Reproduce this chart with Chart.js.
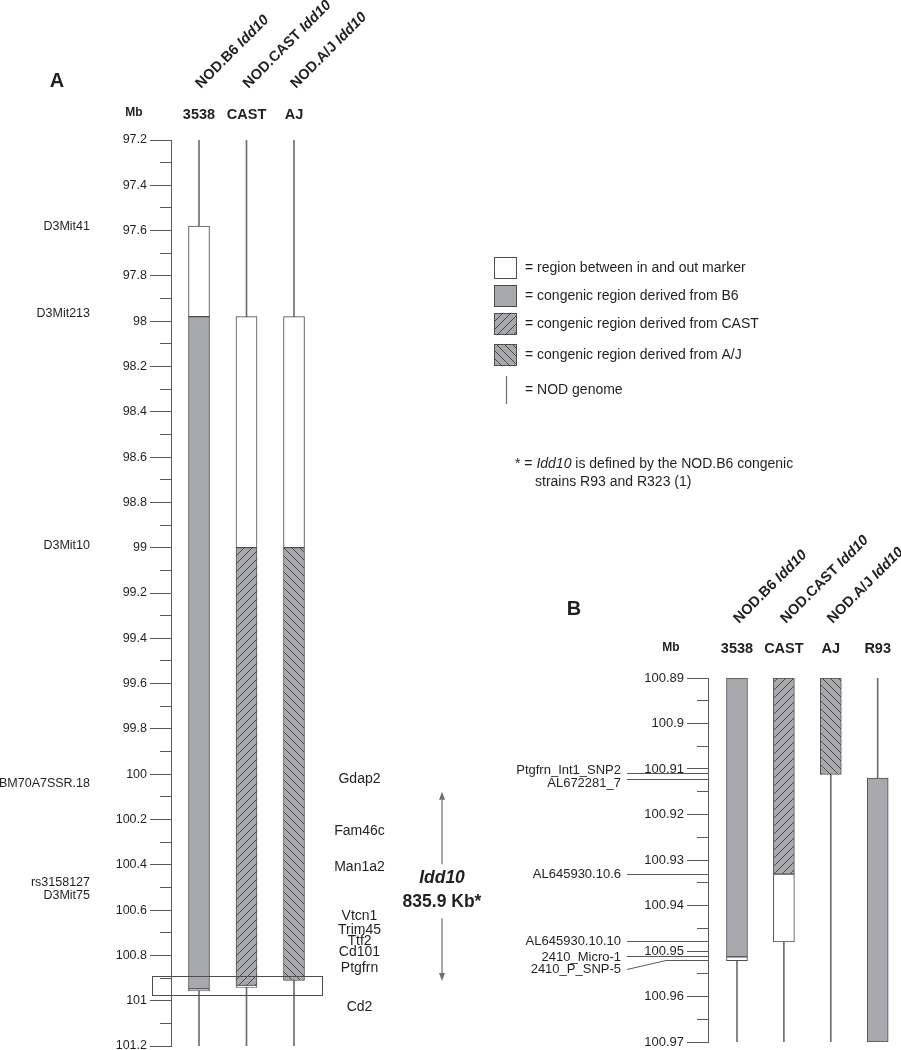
<!DOCTYPE html>
<html><head><meta charset="utf-8">
<script src="https://cdn.jsdelivr.net/npm/chart.js@4.4.1/dist/chart.umd.min.js"></script>
<style>
html,body{margin:0;padding:0;background:#fff;}
#wrap{position:relative;width:901px;height:1050px;overflow:hidden;background:#fff;}
#wrap canvas{position:absolute;left:0;top:0;}
</style></head><body>
<div id="wrap"><canvas id="chartA" width="901" height="1060"></canvas><canvas id="chartB" width="901" height="1060"></canvas></div>
<script>
// ---------------- DATA ----------------
// Panel A
const columnsA = ['3538', 'CAST', 'AJ'];
const strainsA = ['NOD.B6', 'NOD.CAST', 'NOD.A/J'];
const donorA = ['B6', 'CAST', 'AJ'];
const yRangeA = [97.2, 101.2];
const flankTopA = [[97.58, 97.98], [97.98, 99.0], [97.98, 99.0]];
const congenicA = [[97.98, 100.948], [99.0, 100.933], [99.0, 100.911]];
const flankBottomA = [[100.948, 100.957], [100.933, 100.941], null];
const markersA = ['D3Mit41', 'D3Mit213', 'D3Mit10', 'BM70A7SSR.18', 'rs3158127', 'D3Mit75'];
const markerMbA = [97.583, 97.968, 98.99, 100.04, 100.48, 100.535];
const genesA = ['Gdap2', 'Fam46c', 'Man1a2', 'Vtcn1', 'Trim45', 'Ttf2', 'Cd101', 'Ptgfrn', 'Cd2'];
const geneMbA = [100.02, 100.253, 100.412, 100.625, 100.69, 100.738, 100.785, 100.858, 101.03];
const idd10Mb = [100.077, 100.913];
const idd10Text = ['Idd10', '835.9 Kb*'];
const zoomWindowA = [100.891, 100.978];

// Panel B
const columnsB = ['3538', 'CAST', 'AJ', 'R93'];
const strainsB = ['NOD.B6', 'NOD.CAST', 'NOD.A/J', ''];
const donorB = ['B6', 'CAST', 'AJ', 'B6'];
const yRangeB = [100.89, 100.97];
const flankTopB = [null, null, null, null];
const congenicB = [[100.89, 100.9513], [100.89, 100.9331], [100.89, 100.9112], [100.912, 100.97]];
const flankBottomB = [[100.9513, 100.9521], [100.9331, 100.948], null, null];
const markersB = ['Ptgfrn_Int1_SNP2', 'AL672281_7', 'AL645930.10.6', 'AL645930.10.10', '2410_Micro-1', '2410_P_SNP-5'];
const markerMbB = [100.9109, 100.9123, 100.9331, 100.948, 100.9513, 100.9521];

// Legend
const legendKinds = ['white', 'B6', 'CAST', 'AJ', 'line'];
const legendLabels = ['= region between in and out marker', '= congenic region derived from B6',
  '= congenic region derived from CAST', '= congenic region derived from A/J', '= NOD genome'];

// ---------------- STYLE ----------------
const FONT = '"Liberation Sans", Arial, Helvetica, sans-serif';
const INK = '#231f20';
const AXIS = '#58595b';
const GRAY = '#a7a9ac';
const EDGE = '#4d4d4f';
const NODLINE = '#6d6e71';

function makeHatch(dir) {
  const c = document.createElement('canvas');
  c.width = 8; c.height = 8;
  const g = c.getContext('2d');
  g.fillStyle = GRAY; g.fillRect(0, 0, 8, 8);
  g.strokeStyle = '#3f3f41'; g.lineWidth = 0.9;
  g.beginPath();
  if (dir === '/') {
    g.moveTo(-1, 9); g.lineTo(9, -1);
    g.moveTo(-1, 1); g.lineTo(1, -1);
    g.moveTo(7, 9); g.lineTo(9, 7);
  } else {
    g.moveTo(-1, -1); g.lineTo(9, 9);
    g.moveTo(7, -1); g.lineTo(9, 1);
    g.moveTo(-1, 7); g.lineTo(1, 9);
  }
  g.stroke();
  return g.createPattern(c, 'repeat');
}
const FILL = { white: '#ffffff', B6: GRAY, CAST: makeHatch('/'), AJ: makeHatch('\\') };

function f(size, style) { return (style ? style + ' ' : '') + size + 'px ' + FONT; }
function text(ctx, s, x, y, font, align, base) {
  ctx.font = font; ctx.fillStyle = INK;
  ctx.textAlign = align || 'left'; ctx.textBaseline = base || 'middle';
  ctx.fillText(s, x, y);
}
function runs(ctx, parts, x, y, base) {
  ctx.textAlign = 'left'; ctx.textBaseline = base || 'middle'; ctx.fillStyle = INK;
  let cx = x;
  parts.forEach(([t, fn]) => { ctx.font = fn; ctx.fillText(t, cx, y); cx += ctx.measureText(t).width; });
}
function line(ctx, x1, y1, x2, y2, color, w) {
  ctx.strokeStyle = color || AXIS; ctx.lineWidth = w || 1;
  ctx.beginPath(); ctx.moveTo(x1, y1); ctx.lineTo(x2, y2); ctx.stroke();
}
const crisp = v => Math.round(v - 0.5) + 0.5;

function buildDatasets(cols, donor, range, flankTop, congenic, flankBottom) {
  const pts = arr => arr.map((v, i) => v ? { x: i, y: v } : null).filter(Boolean);
  const common = { borderColor: EDGE, borderWidth: 1, borderSkipped: false, barThickness: 21, maxBarThickness: 21 };
  return [
    Object.assign({ label: 'flank bottom', data: pts(flankBottom), backgroundColor: FILL.white, order: 0 }, common),
    Object.assign({ label: 'congenic', data: pts(congenic),
      backgroundColor: c => c.raw ? FILL[donor[c.raw.x]] : GRAY, order: 1 }, common),
    Object.assign({ label: 'flank top', data: pts(flankTop), backgroundColor: FILL.white, order: 1 }, common),
    { label: 'NOD genome', data: cols.map((_, i) => ({ x: i, y: range })), backgroundColor: NODLINE,
      borderWidth: 0, barThickness: 1, maxBarThickness: 1.1, order: 5 }
  ];
}

function axisOptions(cols, range, xMin, xMax, top, left, step, prec, isMajor, fmt, tickFont, headPad) {
  return {
    x: {
      type: 'linear', position: 'top', min: xMin, max: xMax, offset: false,
      afterBuildTicks: s => { s.ticks = cols.map((_, i) => ({ value: i })); },
      afterFit: s => { s.height = top; s.paddingLeft = 0; s.paddingRight = 0; },
      grid: { display: false }, border: { display: false },
      ticks: { callback: v => cols[v], color: INK, padding: headPad, maxRotation: 0, autoSkip: false,
        font: { family: FONT, size: 14.5, weight: 'bold' } }
    },
    y: {
      type: 'linear', position: 'left', reverse: true, min: range[0], max: range[1],
      afterFit: s => { s.width = left; s.paddingTop = 0; s.paddingBottom = 0; },
      ticks: { stepSize: step, precision: prec, autoSkip: false, padding: 3, color: INK,
        callback: v => isMajor(v) ? fmt(v) : '', font: { family: FONT, size: tickFont } },
      grid: { drawOnChartArea: false, drawTicks: true, tickLength: 21, tickWidth: 1,
        tickColor: c => (c.tick && isMajor(c.tick.value)) ? AXIS : 'rgba(0,0,0,0)' },
      border: { display: true, color: AXIS, width: 1 }
    }
  };
}

function minorTickPlugin(isMajor) {
  return {
    id: 'minorTicks',
    afterDraw(chart) {
      const y = chart.scales.y, ctx = chart.ctx, L = chart.chartArea.left;
      ctx.save();
      y.ticks.forEach(t => {
        if (!isMajor(t.value)) { const py = crisp(y.getPixelForValue(t.value)); line(ctx, L - 11, py, L, py); }
      });
      ctx.restore();
    }
  };
}

function drawStrains(ctx, xs, strains, baseY) {
  strains.forEach((s, i) => {
    if (!s) return;
    const px = xs.getPixelForValue(i) + 2;
    ctx.save(); ctx.translate(px, baseY); ctx.rotate(-Math.PI / 4);
    runs(ctx, [[s + ' ', f(14.5, 'bold')], ['Idd10', f(14.5, 'italic bold')]], 0, 0, 'alphabetic');
    ctx.restore();
  });
}

// ---------------- CHART A ----------------
const isMajorA = v => Math.round(v * 10) % 2 === 0;
const fmtA = v => String(Math.round(v * 10) / 10);

const decorA = {
  id: 'decorA',
  afterDraw(chart) {
    const ctx = chart.ctx, ca = chart.chartArea, ys = chart.scales.y, xs = chart.scales.x;
    ctx.save();
    // panel letter + headers
    text(ctx, 'A', 57, 81, f(20, 'bold'), 'center');
    text(ctx, 'Mb', ca.left - 37, 113, f(12, 'bold'), 'center');
    drawStrains(ctx, xs, strainsA, ca.top - 51);
    // marker labels (left)
    markersA.forEach((m, i) => text(ctx, m, ca.left - 81, ys.getPixelForValue(markerMbA[i]), f(12.5), 'right'));
    // gene labels (right)
    genesA.forEach((g, i) => text(ctx, g, ca.right + 37, ys.getPixelForValue(geneMbA[i]), f(14), 'center'));
    // Idd10 arrow
    const ax = ca.right + 119.5;
    const yTop = ys.getPixelForValue(idd10Mb[0]), yBot = ys.getPixelForValue(idd10Mb[1]);
    const yMid = (yTop + yBot) / 2 + 4;
    line(ctx, ax, yTop + 6, ax, yMid - 26, NODLINE, 1.2);
    line(ctx, ax, yMid + 28, ax, yBot - 6, NODLINE, 1.2);
    ctx.fillStyle = NODLINE;
    ctx.beginPath(); ctx.moveTo(ax, yTop); ctx.lineTo(ax - 3, yTop + 8); ctx.lineTo(ax + 3, yTop + 8); ctx.closePath(); ctx.fill();
    ctx.beginPath(); ctx.moveTo(ax, yBot); ctx.lineTo(ax - 3, yBot - 8); ctx.lineTo(ax + 3, yBot - 8); ctx.closePath(); ctx.fill();
    text(ctx, idd10Text[0], ax, yMid - 12, f(17.5, 'italic bold'), 'center');
    text(ctx, idd10Text[1], ax, yMid + 12, f(17.5, 'bold'), 'center');
    // zoom window box
    const bt = crisp(ys.getPixelForValue(zoomWindowA[0])), bb = crisp(ys.getPixelForValue(zoomWindowA[1]));
    ctx.strokeStyle = EDGE; ctx.lineWidth = 1;
    ctx.strokeRect(crisp(ca.left - 18.5), bt, crisp(ca.right) - crisp(ca.left - 18.5), bb - bt);
    // legend
    const lx = 494, rowsY = [268, 296, 324, 355, 390];
    legendKinds.forEach((k, i) => {
      const cy = rowsY[i];
      if (k === 'line') {
        line(ctx, 506.5, cy - 14, 506.5, cy + 14, NODLINE, 1.2);
      } else {
        ctx.fillStyle = FILL[k];
        ctx.fillRect(lx, cy - 11, 23, 22);
        ctx.strokeStyle = EDGE; ctx.lineWidth = 1;
        ctx.strokeRect(lx + 0.5, cy - 10.5, 22, 21);
      }
      text(ctx, legendLabels[i], 525, cy, f(14), 'left');
    });
    // footnote
    runs(ctx, [['* = ', f(14)], ['Idd10', f(14, 'italic')], [' is defined by the NOD.B6 congenic', f(14)]], 515, 464);
    text(ctx, 'strains R93 and R323 (1)', 535, 482, f(14), 'left');
    ctx.restore();
  }
};

new Chart(document.getElementById('chartA'), {
  type: 'bar',
  data: { datasets: buildDatasets(columnsA, donorA, yRangeA, flankTopA, congenicA, flankBottomA) },
  options: {
    responsive: false, animation: false, devicePixelRatio: 1,
    layout: { padding: { left: 0, top: 0, right: 901 - 322.5, bottom: 1060 - 1046 } },
    plugins: { legend: { display: false }, tooltip: { enabled: false } },
    datasets: { bar: { grouped: false } },
    scales: axisOptions(columnsA, yRangeA, -0.5895, 2.6, 140, 171, 0.1, 1, isMajorA, fmtA, 12.5, 8)
  },
  plugins: [minorTickPlugin(isMajorA), decorA]
});

// ---------------- CHART B ----------------
const isMajorB = v => Math.round(v * 1000) % 10 === 0;
const fmtB = v => String(Math.round(v * 100) / 100);
const labelShiftB = [-3, 4, 0, 0, 1, 9];

const decorB = {
  id: 'decorB',
  afterDraw(chart) {
    const ctx = chart.ctx, ca = chart.chartArea, ys = chart.scales.y, xs = chart.scales.x;
    ctx.save();
    text(ctx, 'B', 574, 609, f(20, 'bold'), 'center');
    text(ctx, 'Mb', ca.left - 37, 648, f(12, 'bold'), 'center');
    drawStrains(ctx, xs, strainsB, ca.top - 54);
    markersB.forEach((m, i) => {
      const py = crisp(ys.getPixelForValue(markerMbB[i]));
      const ly = py + labelShiftB[i];
      text(ctx, m, ca.left - 87, ly, f(13), 'right');
      if (i === markersB.length - 1) {
        ctx.strokeStyle = AXIS; ctx.lineWidth = 1;
        ctx.beginPath(); ctx.moveTo(ca.left - 81, ly); ctx.lineTo(ca.left - 42, py); ctx.lineTo(ca.left, py); ctx.stroke();
      } else {
        line(ctx, ca.left - 81, py, ca.left, py);
      }
    });
    ctx.restore();
  }
};

new Chart(document.getElementById('chartB'), {
  type: 'bar',
  data: { datasets: buildDatasets(columnsB, donorB, yRangeB, flankTopB, congenicB, flankBottomB) },
  options: {
    responsive: false, animation: false, devicePixelRatio: 1,
    layout: { padding: { left: 0, top: 0, right: 901 - 895, bottom: 1060 - 1042 } },
    plugins: { legend: { display: false }, tooltip: { enabled: false } },
    datasets: { bar: { grouped: false } },
    scales: axisOptions(columnsB, yRangeB, -0.618, 3.369, 678, 708, 0.005, 3, isMajorB, fmtB, 13, 12)
  },
  plugins: [minorTickPlugin(isMajorB), decorB]
});
</script>
</body></html>
